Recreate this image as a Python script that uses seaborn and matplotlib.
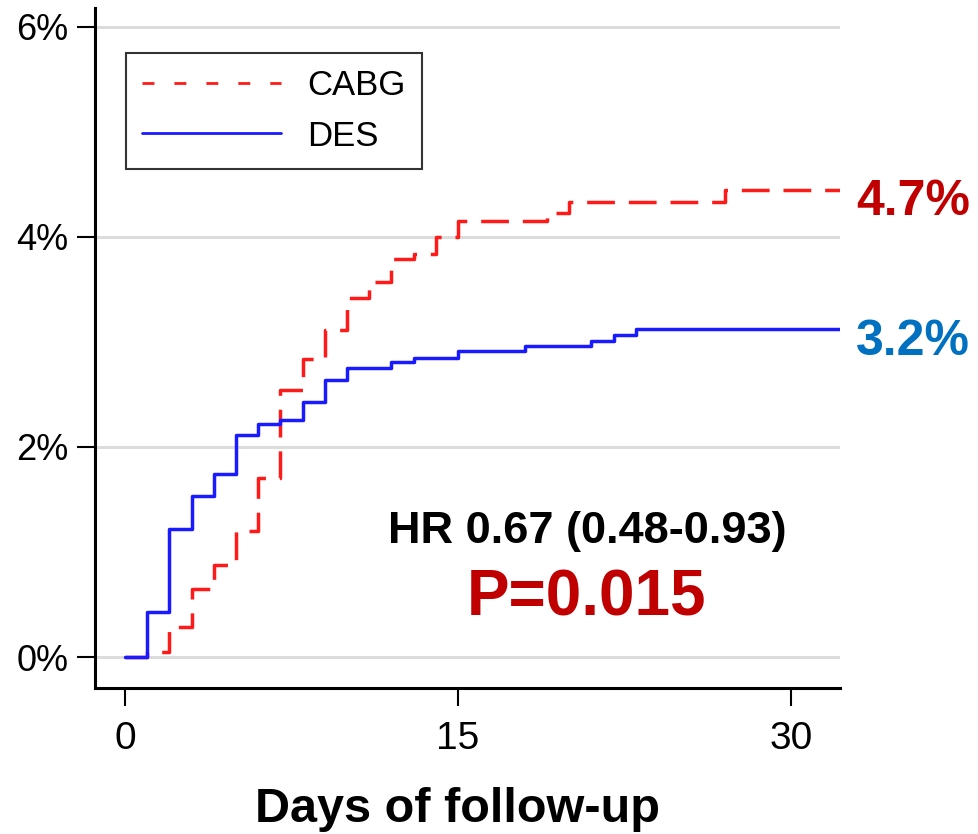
import matplotlib
matplotlib.use('Agg')
import matplotlib.pyplot as plt
from matplotlib.lines import Line2D
import pandas as pd
import seaborn as sns

# Cumulative event rate (%)
cabg_days = [0, 1, 2, 3, 4, 5, 6, 7, 8, 9, 10, 11, 12, 13, 14, 15, 19, 20, 27, 32.5]
cabg_pct = [0, 0.05, 0.29, 0.65, 0.88, 1.20, 1.70, 2.54, 2.84, 3.11, 3.42, 3.57,
            3.79, 3.84, 4.00, 4.15, 4.23, 4.33, 4.45, 4.45]
des_days = [0, 1, 2, 3, 4, 5, 6, 7, 8, 9, 10, 12, 13, 15, 18, 21, 22, 23, 32.5]
des_pct = [0, 0.43, 1.22, 1.53, 1.74, 2.11, 2.22, 2.26, 2.43, 2.64, 2.75, 2.81,
           2.85, 2.91, 2.96, 3.01, 3.07, 3.12, 3.12]

groups = ['CABG', 'DES']
end_labels = ['4.7%', '3.2%']
hr_text = 'HR 0.67 (0.48-0.93)'
p_text = 'P=0.015'
x_ticks = [0, 15, 30]
y_ticks = [0, 2, 4, 6]
y_ticklabels = ['0%', '2%', '4%', '6%']

LINE_COLORS = {'CABG': '#ff1a1a', 'DES': '#1a1aff'}
TEXT_COLORS = {'CABG': '#c00000', 'DES': '#0070c0'}


def get_df():
    ''' Long-format frame with one row per step point. '''
    cabg = pd.DataFrame({'day': cabg_days, 'pct': cabg_pct, 'group': 'CABG'})
    des = pd.DataFrame({'day': des_days, 'pct': des_pct, 'group': 'DES'})
    return pd.concat([cabg, des], ignore_index=True)


def plot_km():
    sns.set_style('white')
    plt.rcParams['font.family'] = ['Liberation Sans', 'DejaVu Sans']
    for key in ['text.color', 'axes.labelcolor', 'xtick.color', 'ytick.color']:
        plt.rcParams[key] = 'black'

    fig = plt.figure(figsize=(9.79, 8.34), dpi=100)
    ax = fig.add_axes([95 / 979, 1 - 688 / 834, 745 / 979, 680 / 834])

    sns.lineplot(data=get_df(), x='day', y='pct', hue='group', style='group',
                 hue_order=groups, style_order=groups, palette=LINE_COLORS,
                 dashes={'CABG': (8.0, 4.0), 'DES': ''}, drawstyle='steps-post',
                 estimator=None, linewidth=2.5, legend=False, ax=ax)

    ax.set_xlim(-1.35, 32.2)
    ax.set_ylim(-0.295, 6.18)
    ax.set_xticks(x_ticks)
    ax.set_xticklabels([str(t) for t in x_ticks])
    ax.set_yticks(y_ticks)
    ax.set_yticklabels(y_ticklabels)
    ax.yaxis.grid(True, color='#dcdcdc', linewidth=2.2)
    ax.set_axisbelow(True)

    for side in ['top', 'right']:
        ax.spines[side].set_visible(False)
    for side in ['left', 'bottom']:
        ax.spines[side].set_color('black')
        ax.spines[side].set_linewidth(2.2)

    ax.tick_params(axis='x', length=13, width=1.5, pad=11, labelsize=28,
                   color='black', labelcolor='black', bottom=True)
    ax.tick_params(axis='y', length=13, width=1.5, pad=6, labelsize=26,
                   color='black', labelcolor='black', left=True)

    ax.set_ylabel('')
    ax.set_xlabel('Days of follow-up', fontsize=35, fontweight='bold', color='black')
    ax.xaxis.set_label_coords(0.487, -0.146)

    # Legend with proxy handles (legend dashes are shorter than on the curve)
    handles = [Line2D([], [], color=LINE_COLORS['CABG'], lw=2, dashes=(4.3, 7.2)),
               Line2D([], [], color=LINE_COLORS['DES'], lw=2)]
    leg = ax.legend(handles, groups, loc='upper left',
                    bbox_to_anchor=(0.0416, 0.934), borderaxespad=0,
                    fontsize=25, handlelength=4.0, handletextpad=0.75,
                    borderpad=0.47, labelspacing=0.5, fancybox=False,
                    framealpha=1, edgecolor='#333333')
    leg.get_frame().set_linewidth(1.5)
    for txt in leg.get_texts():
        txt.set_color('black')

    # End-of-curve rates
    ax.text(32.93, 4.21, end_labels[0], color=TEXT_COLORS['CABG'], fontsize=36,
            fontweight='bold', ha='left', va='baseline', clip_on=False)
    ax.text(32.93, 2.875, end_labels[1], color=TEXT_COLORS['DES'], fontsize=36,
            fontweight='bold', ha='left', va='baseline', clip_on=False)

    ax.text(20.82, 1.088, hr_text, color='black', fontsize=32.5,
            fontweight='bold', ha='center', va='baseline')
    ax.text(20.8, 0.40, p_text, color=TEXT_COLORS['CABG'], fontsize=46,
            fontweight='bold', ha='center', va='baseline')

    fig.savefig('out.png', dpi=100)


if __name__ == '__main__':
    plot_km()
